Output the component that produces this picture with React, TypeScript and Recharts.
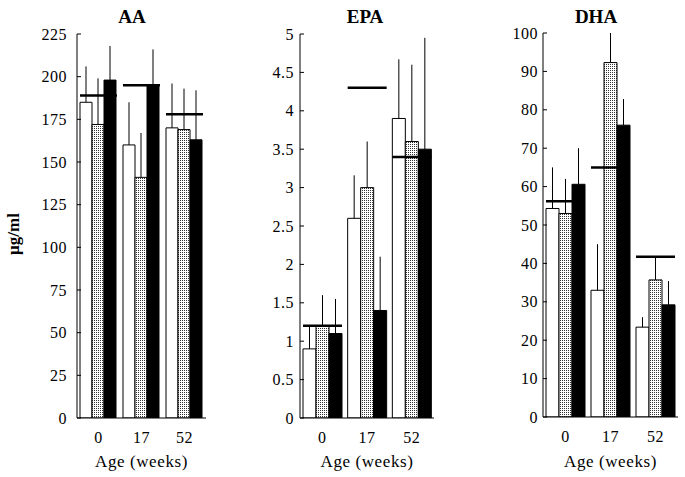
import { BarChart, Bar, XAxis, YAxis, ErrorBar } from 'recharts';

const ages = ['0', '17', '52'];

// AA (µg/ml)
const aaWhite = [185, 160, 170];
const aaDotted = [172, 141, 169];
const aaBlack = [198, 195, 163];
const aaWhiteTop = [206, 185, 196];
const aaDottedTop = [199, 167, 193];
const aaBlackTop = [218, 216, 192];
const aaRef = [189, 195, 178];
const aaTicks = [0, 25, 50, 75, 100, 125, 150, 175, 200, 225];

// EPA
const epaWhite = [0.9, 2.6, 3.9];
const epaDotted = [1.2, 3.0, 3.6];
const epaBlack = [1.1, 1.4, 3.5];
const epaWhiteTop = [1.2, 3.16, 4.67];
const epaDottedTop = [1.6, 3.6, 4.6];
const epaBlackTop = [1.55, 2.1, 4.95];
const epaRef = [1.2, 4.3, 3.4];
const epaTicks = [0, 0.5, 1, 1.5, 2, 2.5, 3, 3.5, 4, 4.5, 5];

// DHA
const dhaWhite = [54.3, 33, 23.4];
const dhaDotted = [53, 92.3, 35.7];
const dhaBlack = [60.6, 76, 29.2];
const dhaWhiteTop = [65, 45, 26];
const dhaDottedTop = [62, 100, 41.7];
const dhaBlackTop = [70, 82.8, 35.4];
const dhaRef = [56.2, 65, 41.7];
const dhaTicks = [0, 10, 20, 30, 40, 50, 60, 70, 80, 90, 100];

const FONT = 'Liberation Serif, serif';

function buildRows(
  white: number[], dotted: number[], black: number[],
  whiteTop: number[], dottedTop: number[], blackTop: number[], norm: number[]
) {
  return ages.map((age, i) => ({
    age,
    white: white[i],
    dotted: dotted[i],
    black: black[i],
    whiteErr: [0, whiteTop[i] - white[i]],
    dottedErr: [0, dottedTop[i] - dotted[i]],
    blackErr: [0, blackTop[i] - black[i]],
    norm: norm[i],
  }));
}

// reference level: a thick horizontal stroke over the whole group
const NormMark = (props: any) => {
  const { x, y, width } = props;
  return <line x1={x} x2={x + width} y1={y} y2={y} stroke="#000" strokeWidth={2.5} />;
};

type PanelProps = {
  id: string;
  title: string;
  titleX: number;
  left: number;
  width: number;
  yWidth: number;
  right: number;
  top: number;
  bottom: number;
  labelGap: number;
  rows: any[];
  ticks: number[];
};

const Panel = ({ id, title, titleX, left, width, yWidth, right, top, bottom, labelGap, rows, ticks }: PanelProps) => {
  const tickStyle = { fill: '#000', fontSize: 16, fontFamily: FONT, letterSpacing: 0.5 };
  return (
    <>
      <div
        style={{
          position: 'absolute',
          left: titleX,
          top: 16,
          transform: 'translate(-50%, -50%)',
          fontFamily: FONT,
          fontWeight: 'bold',
          fontSize: 19,
          lineHeight: 1,
        }}
      >
        {title}
      </div>
      <div style={{ position: 'absolute', left, top: 0 }}>
        <BarChart
          width={width}
          height={477}
          data={rows}
          margin={{ top, right, bottom: 0, left: 0 }}
          barCategoryGap={3}
          barGap={0}
          style={{ fontFamily: FONT }}
        >
          <defs>
            <pattern id={id} width="2" height="2" patternUnits="userSpaceOnUse">
              <rect width="2" height="2" fill="#fff" />
              <rect width="1" height="1" fill="#333" />
            </pattern>
          </defs>
          <XAxis
            dataKey="age"
            height={477 - bottom}
            axisLine={{ stroke: '#000' }}
            tickLine={false}
            tickSize={6}
            tickMargin={8}
            tick={tickStyle}
            label={{ value: 'Age (weeks)', position: 'insideBottom', offset: 10, fill: '#000', fontSize: 17, fontFamily: FONT, letterSpacing: 0.6 }}
          />
          <XAxis
            xAxisId="top"
            dataKey="age"
            orientation="top"
            height={0}
            tick={false}
            tickLine={false}
            axisLine={{ stroke: '#000' }}
          />
          <YAxis
            width={yWidth}
            domain={[ticks[0], ticks[ticks.length - 1]]}
            ticks={ticks}
            interval={0}
            allowDataOverflow
            axisLine={{ stroke: '#000' }}
            tickLine={{ stroke: '#000' }}
            tickSize={-4}
            tickMargin={labelGap + 4}
            tick={tickStyle}
          />
          <YAxis
            yAxisId="right"
            orientation="right"
            width={0}
            domain={[0, 1]}
            tick={false}
            tickLine={false}
            axisLine={{ stroke: '#000' }}
          />
          <Bar dataKey="white" fill="#fff" stroke="#000" strokeWidth={1} isAnimationActive={false}>
            <ErrorBar dataKey="whiteErr" width={0} stroke="#000" strokeWidth={1} isAnimationActive={false} />
          </Bar>
          <Bar dataKey="dotted" fill={`url(#${id})`} stroke="#000" strokeWidth={1} isAnimationActive={false}>
            <ErrorBar dataKey="dottedErr" width={0} stroke="#000" strokeWidth={1} isAnimationActive={false} />
          </Bar>
          <Bar dataKey="black" fill="#000" stroke="#000" strokeWidth={1} isAnimationActive={false}>
            <ErrorBar dataKey="blackErr" width={0} stroke="#000" strokeWidth={1} isAnimationActive={false} />
          </Bar>
          <Bar dataKey="norm" xAxisId="top" shape={NormMark} isAnimationActive={false} />
        </BarChart>
      </div>
    </>
  );
};

export default function App() {
  const aaRows = buildRows(aaWhite, aaDotted, aaBlack, aaWhiteTop, aaDottedTop, aaBlackTop, aaRef);
  const epaRows = buildRows(epaWhite, epaDotted, epaBlack, epaWhiteTop, epaDottedTop, epaBlackTop, epaRef);
  const dhaRows = buildRows(dhaWhite, dhaDotted, dhaBlack, dhaWhiteTop, dhaDottedTop, dhaBlackTop, dhaRef);

  return (
    <div style={{ position: 'absolute', left: 0, top: 0, width: 685, height: 477, background: '#fff', overflow: 'hidden' }}>
      <div
        style={{
          position: 'absolute',
          left: 14,
          top: 234,
          transform: 'translate(-50%, -50%) rotate(-90deg)',
          fontFamily: FONT,
          fontWeight: 'bold',
          fontSize: 17,
          whiteSpace: 'nowrap',
        }}
      >
        μg/ml
      </div>
      <Panel id="dotsAA" title="AA" titleX={132} left={0} width={210} yWidth={77} right={4} top={34} bottom={418} labelGap={10} rows={aaRows} ticks={aaTicks} />
      <Panel id="dotsEPA" title="EPA" titleX={365} left={230} width={210} yWidth={70} right={6} top={34} bottom={418} labelGap={6} rows={epaRows} ticks={epaTicks} />
      <Panel id="dotsDHA" title="DHA" titleX={596} left={470} width={215} yWidth={73} right={7} top={33} bottom={417} labelGap={5} rows={dhaRows} ticks={dhaTicks} />
    </div>
  );
}
